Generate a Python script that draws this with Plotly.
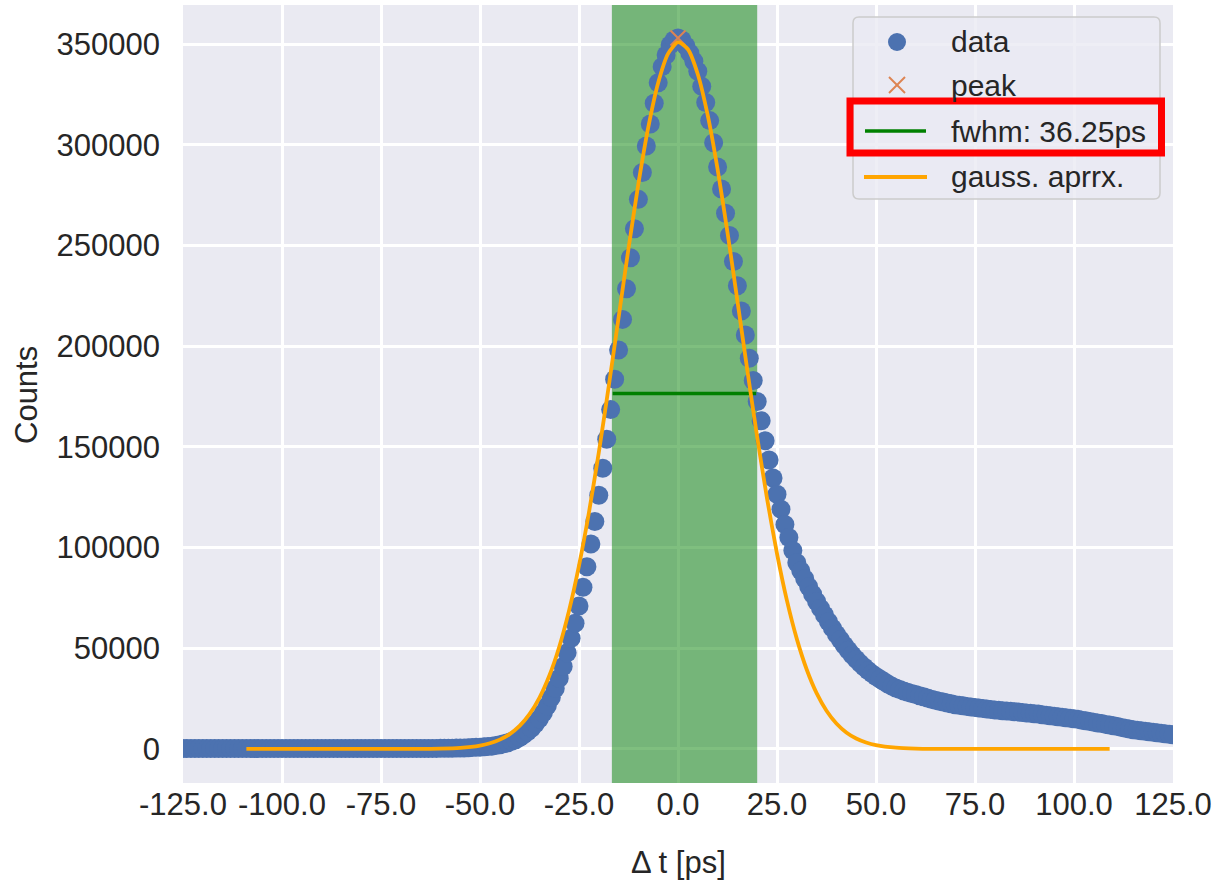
import plotly.graph_objects as go

# ---------------- data ----------------
dt_ps = list(range(-125, 126))
counts = [
    180, 170, 190, 175, 185, 170, 180, 195, 175, 185,
    180, 190, 175, 185, 170, 180, 190, 185, 175, 180,
    185, 175, 190, 180, 170, 185, 180, 190, 175, 185,
    180, 190, 185, 175, 180, 190, 185, 180, 195, 185,
    190, 185, 195, 190, 200, 195, 205, 200, 210, 205,
    215, 210, 220, 225, 230,
    230, 235, 240, 245, 250, 258, 265, 272, 280, 290,
    300, 320, 350, 380, 420, 480, 540, 610, 700, 800,
    900, 1050, 1200, 1400, 1700, 2100, 2600, 3100, 3800, 4600,
    5700, 7000, 8500, 10300, 12500, 15000, 18000, 21500, 25500, 30000,
    35100, 40900, 47800, 55000, 62400, 71000, 80300, 90500, 101800, 112900,
    126000, 139400, 153800, 168500, 183600, 198100, 213300, 228500, 243900, 258300,
    272900, 286200, 299400, 310300, 320600, 330800, 338800, 344600, 349500, 352000,
    353000, 352000, 349000, 345500, 341500, 336500, 329000, 321000, 312000, 301000,
    289000, 278000, 266000, 255000, 242000, 230000, 217500, 205500, 194000, 183000,
    172500, 163000, 153000, 143500, 134500, 126500, 119000, 111500, 105000, 98500,
    92500, 88500, 84500, 80500, 76800, 73200, 69800, 66500, 63200, 60000,
    57000, 54200, 51500, 49000, 46700, 44500, 42500, 40700, 39000, 37400,
    36000, 34700, 33500, 32300, 31200, 30300, 29500, 28800, 28100, 27500,
    27000, 26400, 25900, 25300, 24700, 24200, 23700, 23300, 22800, 22400,
    22000, 21700, 21400, 21100, 20800, 20600, 20300, 20100, 19800, 19600,
    19400, 19200, 19000, 18800, 18700, 18500, 18300, 18100, 17900, 17700,
    17500, 17300, 17000, 16800, 16500, 16300, 16000, 15800, 15500, 15300,
    15000, 14700, 14300, 14000, 13600, 13300, 12900, 12600, 12200, 11900,
    11500, 11100, 10700, 10300, 9900, 9500, 9300, 9000, 8800, 8500,
    8300, 8000, 7800, 7500, 7300, 7000,
]

peak_x = [0.0]
peak_y = [353000]

fwhm_x = [-16.5, 19.75]
fwhm_y = [176500, 176500]
fwhm_span = [-16.7, 20.0]

gauss_x = [-109, -80, -70, -65, -60, -55, -50, -47.5, -45, -42.5, -40, -37.5, -35,
           -32.5, -30, -27.5, -25, -22.5, -20, -17.5, -15, -12.5, -10, -7.5, -5,
           -2.5, 0, 2.5, 5, 7.5, 10, 12.5, 15, 17.5, 20, 22.5, 25, 27.5, 30, 32.5,
           35, 37.5, 40, 42.5, 45, 47.5, 50, 55, 60, 65, 70, 80, 109]
gauss_y = [0, 0, 10, 44, 164, 556, 1695, 2840, 4637, 7380, 11436, 17255, 25374,
           36330, 50650, 68830, 91050, 117300, 147200, 179960, 214250, 248470,
           280620, 308740, 330820, 345250, 350930, 347450, 335030, 314670, 287820,
           256480, 222570, 188140, 154860, 124180, 96980, 73750, 54650, 39450,
           27710, 18975, 12650, 8213, 5198, 3201, 1923, 640, 191, 52, 13, 0, 0]

x_range = [-125, 125]
y_range = [-16900, 369400]
x_ticks = [-125, -100, -75, -50, -25, 0, 25, 50, 75, 100, 125]
x_ticktext = ["-125.0", "-100.0", "-75.0", "-50.0", "-25.0", "0.0", "25.0",
              "50.0", "75.0", "100.0", "125.0"]
y_ticks = [0, 50000, 100000, 150000, 200000, 250000, 300000, 350000]
y_ticktext = [str(v) for v in y_ticks]

legend_labels = ["data", "peak", "fwhm: 36.25ps", "gauss. aprrx."]

# ---------------- styling ----------------
BLUE = "#4C72B0"
ORANGE_X = "#DD8452"
GREEN = "#008000"
ORANGE = "#FFA500"
TEXT = "#262626"
FONT = "Liberation Sans, Arial, sans-serif"
FS_TICK = 31
FS = 30

W, H = 1216, 883
L, R, T, B = 183, 1173, 5, 783


def px(xp):
    return (xp - L) / (R - L)


def py(yp):
    return (B - yp) / (B - T)


fig = go.Figure()
# shaded FWHM span (a filled trace so the grid stays beneath it)
fig.add_trace(go.Scatter(
    x=[fwhm_span[0], fwhm_span[1], fwhm_span[1], fwhm_span[0], fwhm_span[0]],
    y=[y_range[0], y_range[0], y_range[1], y_range[1], y_range[0]],
    mode="lines", fill="toself", fillcolor="rgba(0,128,0,0.5)",
    line=dict(width=0, color="rgba(0,0,0,0)"),
    showlegend=False, hoverinfo="skip"))
fig.add_trace(go.Scatter(x=dt_ps, y=counts, mode="markers",
                         marker=dict(size=19, color=BLUE, line=dict(width=0)),
                         showlegend=False, hoverinfo="skip"))
fig.add_trace(go.Scatter(x=peak_x, y=peak_y, mode="markers",
                         marker=dict(symbol="x-thin", size=15, color=ORANGE_X,
                                     line=dict(width=2, color=ORANGE_X)),
                         showlegend=False, hoverinfo="skip"))
fig.add_trace(go.Scatter(x=fwhm_x, y=fwhm_y, mode="lines",
                         line=dict(color=GREEN, width=3.6),
                         showlegend=False, hoverinfo="skip"))
fig.add_trace(go.Scatter(x=gauss_x, y=gauss_y, mode="lines",
                         line=dict(color=ORANGE, width=3.8, shape="spline", smoothing=0.6),
                         showlegend=False, hoverinfo="skip"))

shapes = []
# Legend frame (rounded rectangle)
lx0, lx1, ly0, ly1, rr = 853, 1160, 17, 199, 6
rx = rr / (R - L)
ry = rr / (B - T)
X0, X1, Y0, Y1 = px(lx0), px(lx1), py(ly1), py(ly0)
path = (f"M {X0+rx},{Y0} L {X1-rx},{Y0} Q {X1},{Y0} {X1},{Y0+ry} "
        f"L {X1},{Y1-ry} Q {X1},{Y1} {X1-rx},{Y1} L {X0+rx},{Y1} "
        f"Q {X0},{Y1} {X0},{Y1-ry} L {X0},{Y0+ry} Q {X0},{Y0} {X0+rx},{Y0} Z")
shapes.append(dict(type="path", xref="paper", yref="paper", path=path,
                   fillcolor="rgba(234,234,242,0.8)",
                   line=dict(color="#CCCCCC", width=1.5), layer="above"))

row_y = [42, 85, 131, 177]
# data marker
shapes.append(dict(type="circle", xref="paper", yref="paper",
                   x0=px(888), x1=px(906), y0=py(row_y[0] + 9), y1=py(row_y[0] - 9),
                   fillcolor=BLUE, line=dict(width=0), layer="above"))
# peak x
shapes.append(dict(type="line", xref="paper", yref="paper",
                   x0=px(889), x1=px(905), y0=py(row_y[1] - 8), y1=py(row_y[1] + 8),
                   line=dict(color=ORANGE_X, width=2), layer="above"))
shapes.append(dict(type="line", xref="paper", yref="paper",
                   x0=px(889), x1=px(905), y0=py(row_y[1] + 8), y1=py(row_y[1] - 8),
                   line=dict(color=ORANGE_X, width=2), layer="above"))
# fwhm line
shapes.append(dict(type="line", xref="paper", yref="paper",
                   x0=px(865), x1=px(926), y0=py(row_y[2]), y1=py(row_y[2]),
                   line=dict(color=GREEN, width=3.6), layer="above"))
# gauss line
shapes.append(dict(type="line", xref="paper", yref="paper",
                   x0=px(864), x1=px(927), y0=py(row_y[3]), y1=py(row_y[3]),
                   line=dict(color=ORANGE, width=3.8), layer="above"))
# red highlight box
shapes.append(dict(type="rect", xref="paper", yref="paper",
                   x0=px(850), x1=px(1161.5), y0=py(153), y1=py(101),
                   fillcolor="rgba(0,0,0,0)", line=dict(color="#FF0000", width=7),
                   layer="above"))

annotations = []
for lab, yy in zip(legend_labels, row_y):
    annotations.append(dict(text=lab, xref="paper", yref="paper", x=px(949), y=py(yy),
                            xanchor="left", yanchor="middle", showarrow=False,
                            font=dict(family=FONT, size=FS, color=TEXT)))
annotations.append(dict(text="Counts", xref="paper", yref="paper", x=px(27), y=py(395),
                        xanchor="center", yanchor="middle", textangle=-90, showarrow=False,
                        font=dict(family=FONT, size=FS_TICK, color=TEXT)))
annotations.append(dict(text="Δ t [ps]", xref="paper", yref="paper", x=px(678), y=py(862),
                        xanchor="center", yanchor="middle", showarrow=False,
                        font=dict(family=FONT, size=FS_TICK, color=TEXT)))

fig.update_layout(
    width=W, height=H,
    margin=dict(l=L, r=W - R, t=T, b=H - B, pad=0),
    paper_bgcolor="white", plot_bgcolor="#EAEAF2",
    showlegend=False,
    shapes=shapes, annotations=annotations,
    font=dict(family=FONT, size=FS_TICK, color=TEXT),
)
fig.update_xaxes(range=x_range, tickvals=x_ticks, ticktext=x_ticktext,
                 showgrid=True, gridcolor="white", gridwidth=2.5, zeroline=False,
                 showline=False, ticks="", tickfont=dict(family=FONT, size=FS_TICK, color=TEXT))
fig.update_yaxes(range=y_range, tickvals=y_ticks, ticktext=y_ticktext,
                 showgrid=True, gridcolor="white", gridwidth=2.5, zeroline=False,
                 showline=False, ticks="", ticklabelstandoff=22,
                 tickfont=dict(family=FONT, size=FS_TICK, color=TEXT))

fig.write_html("out.html", config={"displayModeBar": False},
               post_script="document.body.style.margin='0';document.body.style.overflow='hidden';")
